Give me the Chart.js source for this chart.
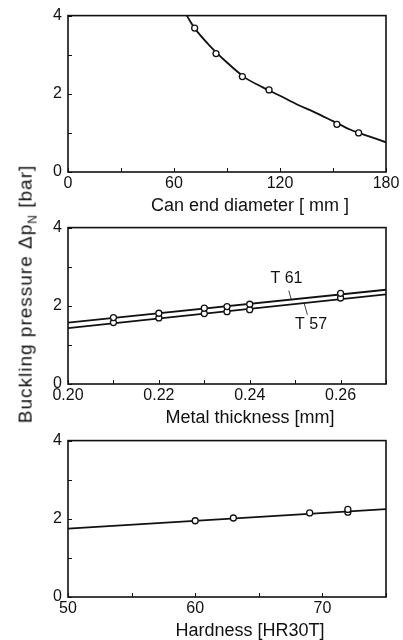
<!DOCTYPE html>
<html lang="en">
<head>
<meta charset="UTF-8">
<title>Buckling pressure</title>
<script src="https://cdn.jsdelivr.net/npm/chart.js"></script>
<style>
    body { margin: 0; background: #fff; }
    #wrap { position: relative; width: 403px; height: 640px; overflow: hidden; }
    canvas { position: absolute; left: 0; }
    #ylabel {
        position: absolute; left: 27px; top: 294px;
        transform: translate(-50%, -50%) rotate(-90deg);
        white-space: nowrap; color: #111; letter-spacing: 1px;
        font: 19px "Liberation Sans", Arial, sans-serif;
    }
    #ylabel sub { font-size: 12px; }
</style>
</head>
<body>
<div id="wrap">
    <canvas id="c1" width="403" height="217" style="top:0"></canvas>
    <canvas id="c2" width="403" height="216" style="top:212px"></canvas>
    <canvas id="c3" width="403" height="215" style="top:425px"></canvas>
    <div id="ylabel">Buckling pressure Δp<sub>N</sub> [bar]</div>
</div>

<script>
// panel 1: can end diameter
const diamX = [71.7, 83.8, 98.7, 113.8, 152.2, 164.5];
const diamY = [3.68, 3.03, 2.44, 2.10, 1.22, 1.00];
const diamCurveX = [67.2, 72, 80, 90, 100, 110, 120, 130, 140, 150, 160, 170, 180];
const diamCurveY = [4.00, 3.66, 3.24, 2.80, 2.42, 2.17, 1.95, 1.72, 1.52, 1.30, 1.08, 0.92, 0.76];

// panel 2: metal thickness, two tinplate tempers
const thickX = [0.21, 0.22, 0.23, 0.235, 0.24, 0.26];
const t61Y = [1.70, 1.81, 1.94, 1.98, 2.04, 2.32];
const t57Y = [1.57, 1.69, 1.80, 1.85, 1.90, 2.20];
const thickLineX = [0.20, 0.27];
const t61LineY = [1.57, 2.41];
const t57LineY = [1.43, 2.29];

// panel 3: hardness
const hardX = [60, 63, 69, 72, 72];
const hardY = [1.95, 2.02, 2.15, 2.17, 2.24];
const hardLineX = [50, 75];
const hardLineY = [1.75, 2.25];

const titles = ['Can end diameter [ mm ]', 'Metal thickness [mm]', 'Hardness [HR30T]'];

const ink = '#111';
const fontFamily = '"Liberation Sans", Arial, sans-serif';
Chart.defaults.font.family = fontFamily;
Chart.defaults.font.size = 16;
Chart.defaults.color = ink;

function pts(xs, ys) {
    return xs.map((x, i) => ({ x: x, y: ys[i] }));
}

function pointSet(xs, ys) {
    return {
        data: pts(xs, ys), showLine: false,
        pointRadius: 3, pointBackgroundColor: '#fff',
        pointBorderColor: ink, pointBorderWidth: 1.3
    };
}

function lineSet(xs, ys, smooth) {
    return {
        data: pts(xs, ys), showLine: true, pointRadius: 0,
        borderColor: ink, borderWidth: 1.8,
        tension: smooth ? 0.4 : 0, cubicInterpolationMode: smooth ? 'monotone' : 'default'
    };
}

// frame, inward tick marks and the x-axis title
const boxTicks = {
    id: 'boxTicks',
    afterDraw(chart) {
        const { ctx, chartArea: a, scales } = chart;
        ctx.save();
        ctx.strokeStyle = ink;
        ctx.lineWidth = 1;
        scales.x.ticks.forEach(t => {
            const px = Math.round(scales.x.getPixelForValue(t.value)) + 0.5;
            ctx.beginPath(); ctx.moveTo(px, a.bottom); ctx.lineTo(px, a.bottom - 4); ctx.stroke();
        });
        scales.y.ticks.forEach(t => {
            const py = Math.round(scales.y.getPixelForValue(t.value)) + 0.5;
            ctx.beginPath(); ctx.moveTo(a.left, py); ctx.lineTo(a.left + 4, py); ctx.stroke();
        });
        ctx.lineWidth = 1.6;
        ctx.strokeRect(a.left, a.top, a.right - a.left, a.bottom - a.top);

        ctx.fillStyle = ink;
        ctx.font = '18px ' + fontFamily;
        ctx.textAlign = 'center';
        ctx.textBaseline = 'middle';
        ctx.fillText(chart.options.plugins.boxTicks.title, (a.left + a.right) / 2 + 23, a.bottom + 34);
        ctx.restore();
    }
};

// T 61 / T 57 labels with leader lines
const curveLabels = {
    id: 'curveLabels',
    afterDraw(chart) {
        const { ctx, scales: { x, y } } = chart;
        const px = v => x.getPixelForValue(v);
        const py = v => y.getPixelForValue(v);
        ctx.save();
        ctx.fillStyle = ink;
        ctx.strokeStyle = ink;
        ctx.lineWidth = 0.8;
        ctx.font = '16px ' + fontFamily;
        ctx.textAlign = 'center';
        ctx.textBaseline = 'middle';
        ctx.fillText('T 61', px(0.2481), py(2.70));
        ctx.fillText('T 57', px(0.2535), py(1.52));
        ctx.beginPath();
        ctx.moveTo(px(0.2486), py(2.39)); ctx.lineTo(px(0.2492), py(2.14));
        ctx.moveTo(px(0.2520), py(2.06)); ctx.lineTo(px(0.2527), py(1.77));
        ctx.stroke();
        ctx.restore();
    }
};

function makeChart(id, datasets, xScale, topPad, xHeight, title, extra) {
    return new Chart(document.getElementById(id), {
        type: 'scatter',
        data: { datasets: datasets },
        options: {
            responsive: false,
            animation: false,
            devicePixelRatio: 1,
            layout: { padding: { top: topPad, right: 17, left: 0, bottom: 0 } },
            plugins: { legend: { display: false }, tooltip: { enabled: false }, boxTicks: { title: title } },
            scales: {
                x: Object.assign({
                    type: 'linear',
                    grid: { display: false, drawTicks: false },
                    border: { display: false },
                    afterFit: s => { s.height = xHeight; }
                }, xScale),
                y: {
                    min: 0, max: 4,
                    grid: { display: false, drawTicks: false },
                    border: { display: false },
                    ticks: { stepSize: 1, padding: 6, callback: v => (v % 2 === 0 ? v : '') },
                    afterFit: s => { s.width = 68; }
                }
            }
        },
        plugins: [boxTicks].concat(extra || [])
    });
}

makeChart('c1', [
    pointSet(diamX, diamY),
    lineSet(diamCurveX, diamCurveY, true)
], {
    min: 0, max: 180,
    ticks: { stepSize: 30, padding: 2, autoSkip: false, maxRotation: 0,
        callback: v => (v % 60 === 0 ? v : '') }
}, 13, 45, titles[0]);

makeChart('c2', [
    pointSet(thickX, t61Y),
    pointSet(thickX, t57Y),
    lineSet(thickLineX, t61LineY, false),
    lineSet(thickLineX, t57LineY, false)
], {
    min: 0.20, max: 0.27,
    ticks: { stepSize: 0.01, padding: 2, autoSkip: false, maxRotation: 0,
        callback: v => (Math.round(v * 100) % 2 === 0 ? v.toFixed(2) : '') }
}, 12, 44, titles[1], [curveLabels]);

makeChart('c3', [
    pointSet(hardX, hardY),
    lineSet(hardLineX, hardLineY, false)
], {
    min: 50, max: 75,
    ticks: { stepSize: 5, padding: 2, autoSkip: false, maxRotation: 0,
        callback: v => (v % 10 === 0 ? v : '') }
}, 10, 43, titles[2]);
</script>
</body>
</html>
